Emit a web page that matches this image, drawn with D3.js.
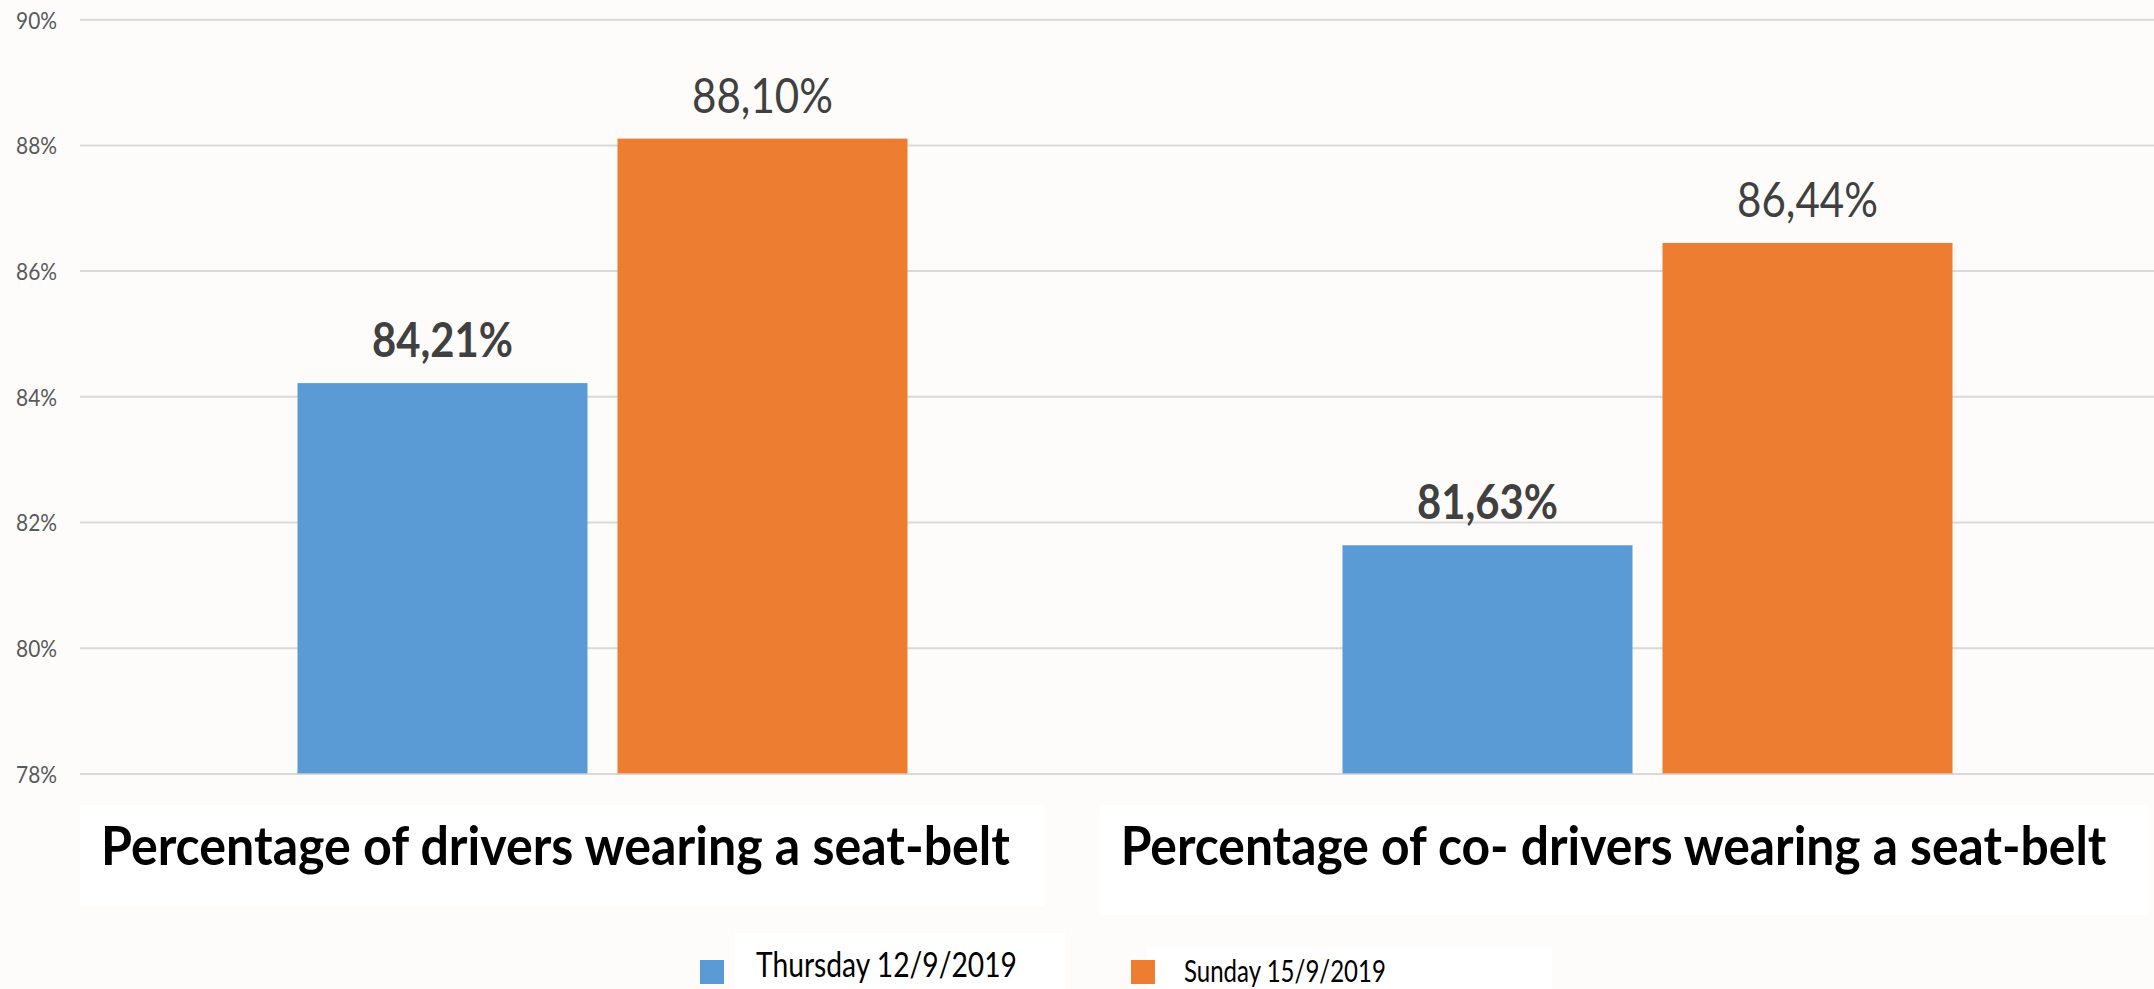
<!DOCTYPE html>
<html>
<head>
<meta charset="utf-8">
<script src="https://cdn.jsdelivr.net/npm/d3@7"></script>
<style>
  html, body { margin: 0; padding: 0; background: #fdfcfa; }
  svg { display: block; font-family: Lato, "Open Sans", sans-serif; }
</style>
</head>
<body>
<div id="okvir"></div>
<script>
// podaci
const kategorije = ["Percentage of drivers wearing a seat-belt", "Percentage of co- drivers wearing a seat-belt"]
const serije = ["Thursday 12/9/2019", "Sunday 15/9/2019"]
const cetvrtak = [84.21, 81.63]
const nedjelja = [88.10, 86.44]
const yTickovi = [78, 80, 82, 84, 86, 88, 90]

const boje = ["#5b9bd5", "#ed7d31"]

// suzi tekst vodoravno da bude zadane sirine (Calibri je uzi od Lato)
function suzi(tekst, x, y, sirina) {
  const w = tekst.node().getComputedTextLength()
  const k = w > 0 ? sirina / w : 1
  tekst.attr("x", 0).attr("y", 0)
    .attr("transform", `translate(${x},${y}) scale(${k},1)`)
}

function crtaj() {
  const dim = { sirina: 2154, visina: 989, lijevo: 80, desno: 2170, vrh: 19.2, dno: 773.4 }

  const svg = d3.select("#okvir").append("svg")
    .attr("width", dim.sirina)
    .attr("height", dim.visina)

  svg.append("rect")
    .attr("width", dim.sirina).attr("height", dim.visina)
    .attr("fill", "#fdfcfa")

  const y = d3.scaleLinear().domain([78, 90]).range([dim.dno, dim.vrh])

  const x0 = d3.scaleBand().domain(kategorije).range([dim.lijevo, dim.desno])
  const grupa = 610
  const x1 = d3.scaleBand().domain(serije)
    .range([(x0.bandwidth() - grupa) / 2, (x0.bandwidth() + grupa) / 2])
    .paddingInner(0.09375)
  const boja = d3.scaleOrdinal().domain(serije).range(boje)

  // mreza
  const yOs = d3.axisLeft(y).tickValues(yTickovi)
    .tickSize(-(dim.sirina - dim.lijevo))
    .tickFormat(d => d + "%")
  const os = svg.append("g")
    .attr("transform", `translate(${dim.lijevo},0)`)
    .call(yOs)
    .attr("font-family", "Lato, 'Open Sans', sans-serif")
  os.select(".domain").remove()
  os.selectAll(".tick line").attr("stroke", "#d9d9d9").attr("stroke-width", 2)
  os.selectAll(".tick text")
    .attr("fill", "#595959")
    .attr("font-size", 23)
    .attr("dy", null)
    .attr("dominant-baseline", "central")
    .each(function() { suzi(d3.select(this), -23, 0, 41) })

  // stupci
  const redovi = kategorije.map((k, i) => ({
    kat: k,
    vrijednosti: [
      { serija: serije[0], v: cetvrtak[i], bold: true },
      { serija: serije[1], v: nedjelja[i], bold: false },
    ]
  }))

  const g = svg.selectAll(".grupa").data(redovi).enter().append("g")
    .attr("class", "grupa")
    .attr("transform", d => `translate(${x0(d.kat)},0)`)

  g.selectAll("rect").data(d => d.vrijednosti).enter().append("rect")
    .attr("x", d => x1(d.serija))
    .attr("width", x1.bandwidth())
    .attr("y", d => y(d.v))
    .attr("height", d => y(78) - y(d.v))
    .attr("fill", d => boja(d.serija))

  const fmt = v => d3.format(".2f")(v).replace(".", ",") + "%"
  g.selectAll(".vrijednost").data(d => d.vrijednosti).enter().append("text")
    .attr("class", "vrijednost")
    .attr("text-anchor", "middle")
    .attr("font-size", 48)
    .attr("font-weight", d => d.bold ? "bold" : "normal")
    .attr("fill", "#404040")
    .text(d => fmt(d.v))
    .each(function(d) {
      suzi(d3.select(this), x1(d.serija) + x1.bandwidth() / 2, y(d.v) - 26, 141)
    })

  // natpisi kategorija u bijelim okvirima
  const okviri = [
    { x: 80, y: 805, w: 964, h: 101, pomak: -47, duz: 909 },
    { x: 1100, y: 805, w: 1048, h: 110, pomak: -34, duz: 986 },
  ]
  kategorije.forEach((k, i) => {
    const o = okviri[i]
    svg.append("rect")
      .attr("x", o.x).attr("y", o.y).attr("width", o.w).attr("height", o.h)
      .attr("fill", "#ffffff")
    const t = svg.append("text")
      .attr("text-anchor", "middle")
      .attr("font-size", 53)
      .attr("font-weight", "bold")
      .attr("fill", "#000000")
      .text(k)
    suzi(t, x0(k) + x0.bandwidth() / 2 + o.pomak, 865, o.duz)
  })

  // legenda
  const leg = [
    { kx: 700, ky: 960, box: [735, 933, 330, 56], tx: 756, ty: 977, fs: 35, duz: 261 },
    { kx: 1131, ky: 960, box: [1147, 948, 405, 41], tx: 1184, ty: 982, fs: 30, duz: 202 },
  ]
  serije.forEach((s, i) => {
    const l = leg[i]
    svg.append("rect")
      .attr("x", l.box[0]).attr("y", l.box[1]).attr("width", l.box[2]).attr("height", l.box[3])
      .attr("fill", "#ffffff")
    svg.append("rect")
      .attr("x", l.kx).attr("y", l.ky).attr("width", 24).attr("height", 24)
      .attr("fill", boja(s))
    const t = svg.append("text")
      .attr("font-size", l.fs)
      .attr("fill", "#000000")
      .text(s)
    suzi(t, l.tx, l.ty, l.duz)
  })
}
crtaj()
</script>
</body>
</html>
